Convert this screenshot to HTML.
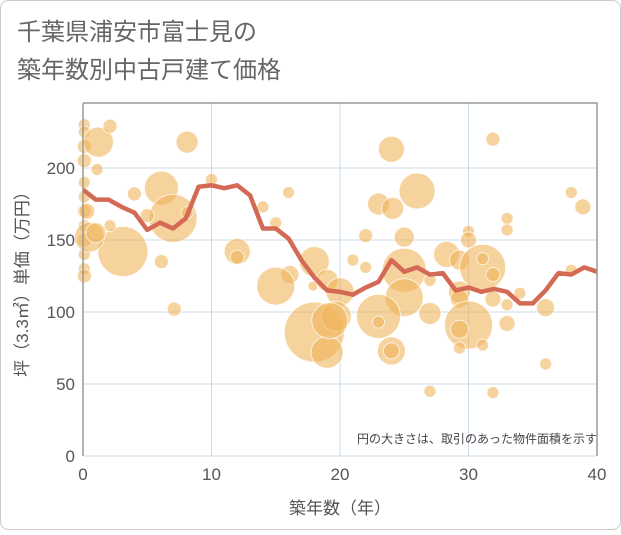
<!DOCTYPE html>
<html><head><meta charset="utf-8"><style>
body{margin:0;background:#fff;}
svg text{font-family:"Liberation Sans","Noto Sans CJK JP",sans-serif;}
</style></head><body>
<svg width="621" height="530" xmlns="http://www.w3.org/2000/svg">
<rect x="0.5" y="0.5" width="620" height="529" rx="8" fill="#fff" stroke="#ccc"/>
<text x="17" y="40" font-size="24" fill="#666">千葉県浦安市富士見の</text>
<text x="17" y="78" font-size="24" fill="#666">築年数別中古戸建て価格</text>
<g id="grid"></g>
<g id="bubbles"></g>
<g id="line"></g>
<g id="axes"></g>
<text x="597" y="443" font-size="12" fill="#444" text-anchor="end">円の大きさは、取引のあった物件面積を示す</text>
<text x="340" y="514" font-size="17" fill="#555" text-anchor="middle">築年数（年）</text>
<text transform="translate(28,280) rotate(-90)" font-size="17" fill="#555" text-anchor="middle">坪（3.3㎡）単価（万円）</text>
</svg>
<script>
const xTicks=[0,10,20,30,40];
const yTicks=[0,50,100,150,200];
const lineYears=[0,1,2,3,4,5,6,7,8,9,10,11,12,13,14,15,16,17,18,19,20,21,22,23,24,25,26,27,28,29,30,31,32,33,34,35,36,37,38,39,40];
const lineValues=[185,178,178,173,169,157,162,158,165,187,188,186,188,181,158,158,151,136,124,115,114,112,117,121,136,128,131,126,127,115,117,114,116,114,106,106,115,127,126,131,128];
const bubbleYears=[0.1,0.1,0.1,0.1,0.1,0.1,0.1,0.1,0.1,0.1,0.1,0.1,1.2,2.1,8.1,1.1,6.1,4,7,8.1,5,3.1,6.1,12,12,7.1,10,16,14,15,18,16.1,15,17.9,19,20,18,19,19.7,0.5,2.1,24,31.9,26,23,24.1,38,38.9,33,33,30,30,22,25,21,22,28.3,29.3,25,31.1,31.1,31.9,27,25,23,23,27,29.3,29.3,31.9,33,33,30,29.3,24,24,29.3,31.1,34,36,36,27,31.9,19.2,38,1,0.3];
const bubbleValues=[230,225,215,205,190,180,170,160,150,140,130,125,218,229,218,199,186,182,165,169,167,142,135,142,138,102,192,183,173,162,135,126,118,118,122,114,86,72,97,152,160,213,220,184,175,172,183,173,165,157,156,150,153,152,136,131,140,136,129,131,137,126,122,110,97,93,99,114,109,109,105,92,91,88,73,73,75,77,113,103,64,45,44,94,129,155,170];
const bubbleSizes=[36,36,49,49,36,36,49,36,49,36,36,49,225,49,121,36,289,49,576,36,49,625,49,169,49,49,36,36,36,36,225,81,361,25,121,196,900,256,225,225,36,169,49,324,121,121,36,64,36,36,36,64,49,100,36,36,169,100,484,529,36,49,36,361,484,36,121,121,81,64,36,64,576,81,196,64,36,36,36,81,36,36,36,324,36,100,64];
const X0=83,X1=597,Y0=456,YTOP=103;
const xs=v=>X0+(v/40)*(X1-X0);
const ys=v=>Y0-v*1.44;
const NS="http://www.w3.org/2000/svg";
function mk(t,a,p){const e=document.createElementNS(NS,t);for(const k in a)e.setAttribute(k,a[k]);p.appendChild(e);return e;}
const grid=document.getElementById('grid');
yTicks.forEach(v=>{if(v>0){const l=mk('line',{x1:X0,x2:X1,y1:ys(v),y2:ys(v),stroke:'#c8d8e8','stroke-width':1},grid);

}});
xTicks.forEach(v=>{if(v>0&&v<40){const l=mk('line',{x1:xs(v),x2:xs(v),y1:YTOP,y2:Y0,stroke:'#c8d8e8','stroke-width':1},grid);

}});
const bg=document.getElementById('bubbles');
bubbleYears.forEach((yr,i)=>{const c=mk('circle',{cx:xs(yr),cy:ys(bubbleValues[i]),r:Math.sqrt(bubbleSizes[i]),fill:'rgba(240,180,90,0.6)',stroke:'rgba(255,255,255,0.7)','stroke-width':1},bg);

});
const lg=document.getElementById('line');
const p=mk('polyline',{points:lineYears.map((y,i)=>xs(y)+','+ys(lineValues[i])).join(' '),fill:'none',stroke:'#d46a55','stroke-width':4.5,'stroke-linejoin':'round'},lg);


const ax=document.getElementById('axes');
const fr=mk('path',{d:`M${X0},${YTOP} L${X0},${Y0} M${X0},${YTOP} L${X1},${YTOP} L${X1},${Y0}`,stroke:'#999',fill:'none','stroke-width':1.5},ax);


const bl=mk('line',{x1:X0,x2:X1,y1:Y0,y2:Y0,stroke:'#c8d8e8','stroke-width':1},ax);


yTicks.forEach(v=>{const t=mk('text',{x:X0-8,y:ys(v)+6,'font-size':17,fill:'#555','text-anchor':'end'},ax);t.textContent=v;

});
xTicks.forEach(v=>{const t=mk('text',{x:xs(v),y:Y0+24,'font-size':17,fill:'#555','text-anchor':'middle'},ax);t.textContent=v;

});
</script>
</body></html>
